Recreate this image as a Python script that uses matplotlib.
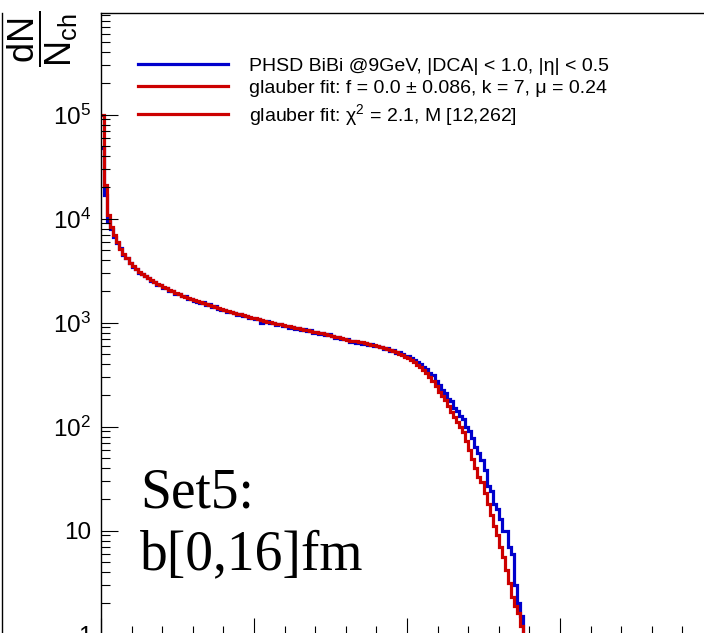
import numpy as np
import matplotlib
matplotlib.use('Agg')
import matplotlib.pyplot as plt
from matplotlib.lines import Line2D
from matplotlib.ticker import FixedLocator, FixedFormatter, MultipleLocator, LogLocator, NullFormatter

plt.rcParams['font.family'] = ['Liberation Sans', 'DejaVu Sans']
plt.rcParams['mathtext.fontset'] = 'custom'
plt.rcParams['mathtext.rm'] = 'Liberation Sans'
plt.rcParams['mathtext.it'] = 'Liberation Sans:italic'
plt.rcParams['mathtext.bf'] = 'Liberation Sans:bold'

# multiplicity bins (width 1)
bin_edges = np.arange(0, 142)

phsd = [47600, 16800, 9250, 7900, 6700, 5800, 5150, 4450, 4200, 3700,
        3400, 3300, 3000, 2950, 2780, 2700, 2520, 2470, 2300, 2290,
        2150, 2140, 2020, 2010, 1900, 1880, 1780, 1790, 1680, 1700,
        1620, 1590, 1540, 1570, 1470, 1490, 1400, 1430, 1360, 1330,
        1330, 1270, 1250, 1240, 1180, 1200, 1150, 1160, 1100, 1110,
        1070, 1090, 1000, 1010, 1030, 990, 1000, 940, 960, 930,
        920, 880, 910, 870, 890, 840, 860, 820, 840, 790,
        815, 780, 790, 760, 770, 740, 710, 730, 700, 695,
        690, 650, 665, 640, 655, 620, 640, 610, 625, 595,
        590, 585, 555, 570, 530, 540, 510, 515, 495, 480,
        480, 455, 440, 420, 400, 375, 360, 330, 310, 275,
        250, 225, 210, 185, 175, 150, 140, 125, 118, 100,
        90, 78, 63, 56, 48, 38, 27, 24, 18, 16,
        13, 10, 10, 7, 6, 3, 2, 1.5, 0, 0, 0]

glauber = [99000, 21000, 10800, 8290, 6940, 5940, 5090, 4560, 4170, 3730,
           3490, 3270, 3060, 2930, 2800, 2680, 2560, 2450, 2345, 2270,
           2195, 2125, 2055, 1990, 1925, 1860, 1800, 1760, 1720, 1685,
           1645, 1610, 1575, 1555, 1505, 1475, 1440, 1410, 1380, 1350,
           1320, 1290, 1260, 1235, 1210, 1195, 1180, 1155, 1130, 1105,
           1093, 1080, 1057, 1033, 1022, 1011, 989, 968, 957, 947,
           926, 916, 906, 886, 876, 866, 847, 838, 829, 819,
           810, 792, 784, 775, 758, 742, 726, 718, 710, 694,
           679, 671, 664, 657, 650, 650, 635, 621, 614, 608,
           594, 581, 568, 556, 544, 532, 520, 503, 487, 471,
           456, 436, 417, 394, 373, 349, 327, 299, 274, 245,
           215, 196, 180, 157, 138, 123, 110, 99, 89, 73,
           59, 49, 40, 33, 29, 23, 18, 14, 11, 9,
           7, 5.6, 4.2, 3.1, 2.3, 1.9, 1.6, 1.2, 0, 0, 0]

labels = ['PHSD BiBi @9GeV, |DCA| < 1.0, |η| < 0.5',
          'glauber fit: f = 0.0 ± 0.086, k = 7, μ = 0.24',
          'glauber fit: χ$^{2}$ = 2.1, M [12,262]']

ytick_vals = [1, 10, 1e2, 1e3, 1e4, 1e5]
ytick_labels = ['1', '10', r'$10^{2}$', r'$10^{3}$', r'$10^{4}$', r'$10^{5}$']

W, H = 704, 633
fig = plt.figure(figsize=(W / 100, H / 100), dpi=100)
ax = fig.add_axes([101 / W, -1.5 / H, 220 * 3.06 / W, (634.5 - 13) / H])

blue = '#0000cc'
red = '#cc0000'
ax.stairs(phsd, bin_edges, color=blue, lw=2.3, baseline=None)
ax.stairs(glauber, bin_edges, color=red, lw=2.3, baseline=None)

ax.set_yscale('log')
ax.set_xlim(0, 220)
ax.set_ylim(1, 10 ** ((634.5 - 13) / 104))

ax.xaxis.set_major_locator(MultipleLocator(50))
ax.xaxis.set_minor_locator(MultipleLocator(10))
ax.yaxis.set_major_locator(FixedLocator(ytick_vals))
ax.yaxis.set_major_formatter(FixedFormatter(ytick_labels))
ax.yaxis.set_minor_locator(LogLocator(base=10, subs=np.arange(2, 10)))
ax.yaxis.set_minor_formatter(NullFormatter())

ax.tick_params(which='both', direction='in', top=False, right=False,
               labelbottom=False, width=0.8, color='black')
ax.tick_params(which='major', length=12.5, labelsize=17.5, pad=7)
ax.tick_params(which='minor', length=6.5)
for s in ax.spines.values():
    s.set_linewidth(1.0)

handles = [Line2D([], [], color=blue, lw=2.3),
           Line2D([], [], color=red, lw=2.3),
           Line2D([], [], color=red, lw=2.3)]
ax.legend(handles, labels, loc='upper left',
          bbox_to_anchor=(138 / W, 1 - 57 / H), bbox_transform=fig.transFigure,
          frameon=False, fontsize=14, handlelength=4.64, handletextpad=1.05,
          labelspacing=0.25, borderpad=0, borderaxespad=0)

fig.text(43 / W, 1 - 11 / H, r'$\dfrac{\mathrm{dN}}{\mathrm{N}_{\mathrm{ch}}}$',
         rotation=90, ha='center', va='top', fontsize=26)

fig.text(140 / W, 1 - 507 / H, 'Set5:', family='Liberation Serif',
         fontsize=40, va='baseline', ha='left')
fig.text(140 / W, 1 - 569 / H, 'b[0,16]fm', family='Liberation Serif',
         fontsize=40, va='baseline', ha='left')

fig.add_artist(Line2D([1.5 / W, 1.5 / W], [0, 1 - 13 / H], color='black', lw=1.0))

fig.savefig('out.png', dpi=100)
